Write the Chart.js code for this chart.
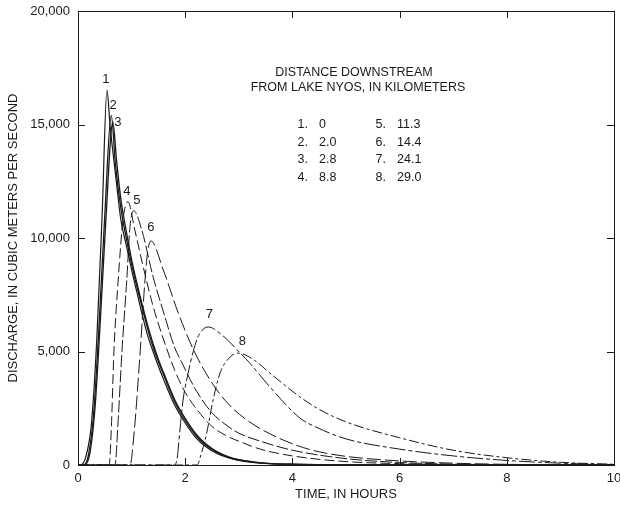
<!DOCTYPE html>
<html>
<head>
<meta charset="utf-8">
<script src="https://cdn.jsdelivr.net/npm/chart.js@4.4.1/dist/chart.umd.min.js"></script>
<style>
  html, body { margin: 0; padding: 0; background: #fff; }
  #wrap { width: 620px; height: 505px; position: relative; }
</style>
</head>
<body>
<div id="wrap"><canvas id="chart_nyosFlood"></canvas></div>
<script>
// time, in hours, and discharge, in cubic meters per second, for each station
var t1 = [0, 0.05, 0.15, 0.25, 0.35, 0.45, 0.54, 0.6, 0.7, 0.8, 0.9, 1.0, 1.1, 1.2, 1.3, 1.4, 1.5, 1.6, 1.8, 2.0, 2.2, 2.4, 2.6, 2.8, 3.0, 3.3, 3.6, 4.0, 4.5, 5.0, 10];
var q1 = [0, 0, 400, 1800, 5500, 11000, 16500, 14900, 12800, 10800, 9700, 8600, 7600, 6600, 5700, 5000, 4350, 3750, 2650, 1850, 1200, 780, 500, 320, 200, 100, 55, 25, 10, 0, 0];
var t2 = [0, 0.1, 0.2, 0.3, 0.4, 0.5, 0.62, 0.7, 0.8, 0.9, 1.0, 1.1, 1.2, 1.3, 1.4, 1.5, 1.6, 1.8, 2.0, 2.2, 2.4, 2.6, 2.8, 3.0, 3.3, 3.6, 4.0, 4.5, 5.0, 10];
var q2 = [0, 0, 500, 2500, 6500, 11000, 15400, 13200, 11300, 10000, 8850, 7850, 6900, 6000, 5200, 4550, 3950, 2800, 1950, 1300, 850, 550, 350, 220, 120, 60, 30, 10, 0, 0];
var t3 = [0, 0.12, 0.22, 0.32, 0.42, 0.52, 0.65, 0.72, 0.8, 0.9, 1.0, 1.1, 1.2, 1.3, 1.4, 1.5, 1.6, 1.8, 2.0, 2.2, 2.4, 2.6, 2.8, 3.0, 3.3, 3.6, 4.0, 4.5, 5.0, 10];
var q3 = [0, 0, 500, 2600, 6500, 10800, 15100, 13400, 11700, 10300, 9050, 8000, 7050, 6150, 5350, 4650, 4050, 2900, 2050, 1370, 900, 580, 370, 235, 125, 65, 32, 12, 0, 0];
var t4 = [0, 0.58, 0.62, 0.67, 0.75, 0.84, 0.93, 1.06, 1.2, 1.4, 1.6, 1.8, 2.0, 2.2, 2.5, 2.8, 3.0, 3.4, 4.0, 5.0, 6.0, 7.0, 8.0, 10];
var q4 = [0, 0, 1500, 5000, 8150, 10800, 11600, 10350, 8900, 7000, 5500, 4200, 3200, 2500, 1700, 1250, 1050, 700, 400, 150, 60, 20, 0, 0];
var t5 = [0, 0.69, 0.75, 0.82, 0.91, 0.97, 1.04, 1.19, 1.4, 1.6, 1.8, 1.94, 2.2, 2.5, 2.8, 3.0, 3.4, 4.0, 5.0, 6.0, 7.0, 8.0, 9.0, 10];
var q5 = [0, 0, 2000, 5000, 8150, 10500, 11200, 10350, 8300, 6700, 5200, 4500, 3300, 2300, 1700, 1400, 1050, 650, 280, 110, 40, 10, 0, 0];
var t6 = [0, 0.97, 1.05, 1.16, 1.25, 1.3, 1.36, 1.59, 1.87, 2.15, 2.45, 2.8, 3.2, 3.6, 4.1, 4.5, 5.0, 6.0, 7.0, 8.0, 9.0, 10];
var q6 = [0, 0, 1500, 5000, 8150, 9400, 9870, 8600, 6700, 5100, 3800, 2700, 1900, 1350, 850, 580, 380, 180, 80, 30, 10, 0];
var t7 = [0, 1.8, 1.85, 1.9, 1.96, 2.05, 2.15, 2.25, 2.43, 2.7, 2.97, 3.2, 3.58, 4.14, 4.46, 5.0, 6.0, 7.0, 8.0, 9.0, 10];
var q7 = [0, 0, 300, 1500, 2860, 4000, 5000, 5700, 6080, 5700, 5070, 4500, 3440, 2070, 1650, 1150, 700, 400, 200, 80, 20];
var t8 = [0, 2.22, 2.3, 2.4, 2.52, 2.65, 2.84, 2.99, 3.3, 3.58, 4.14, 4.5, 5.0, 6.0, 7.0, 8.0, 9.0, 10];
var q8 = [0, 0, 500, 1400, 2860, 4050, 4760, 4930, 4600, 4050, 3000, 2450, 1900, 1200, 650, 320, 120, 30];

var curveNames = ['1', '2', '3', '4', '5', '6', '7', '8'];
var distancesKm = ['0', '2.0', '2.8', '8.8', '11.3', '14.4', '24.1', '29.0'];
var xTicks = [0, 2, 4, 6, 8, 10];
var yTicks = [0, 5000, 10000, 15000, 20000];

var times = [t1, t2, t3, t4, t5, t6, t7, t8];
var flows = [q1, q2, q3, q4, q5, q6, q7, q8];
var dashes = [[], [], [], [10, 4], [12, 3], [14, 4], [16, 3, 4, 3], [10, 3, 3, 3]];
var widths = [1.2, 1.3, 1.3, 1, 1, 1, 1, 1];
// label nudges from each peak, in pixels
var labelOffsets = [[-1, -11], [2, -9], [5, 1], [-1, -10], [3, -10], [0, -13], [1, -12], [4, -11]];

var FONT = '"Liberation Sans", Arial, sans-serif';
var INK = '#1a1a1a';

var datasets = curveNames.map(function (name, i) {
  return {
    label: name,
    data: times[i].map(function (x, j) { return { x: x, y: flows[i][j] }; }),
    borderColor: INK,
    borderWidth: widths[i],
    borderDash: dashes[i],
    pointRadius: 0,
    fill: false,
    cubicInterpolationMode: 'monotone'
  };
});

var frameAndNotes = {
  id: 'frameAndNotes',
  beforeDraw: function (chart) {
    var ctx = chart.ctx;
    ctx.save();
    ctx.fillStyle = 'white';
    ctx.fillRect(0, 0, chart.width, chart.height);
    ctx.restore();
  },
  afterDatasetsDraw: function (chart) {
    var ctx = chart.ctx;
    var a = chart.chartArea;
    var xs = chart.scales.x, ys = chart.scales.y;
    ctx.save();
    ctx.strokeStyle = INK;
    ctx.lineWidth = 1;
    ctx.strokeRect(Math.round(a.left) + 0.5, Math.round(a.top) + 0.5, Math.round(a.right - a.left), Math.round(a.bottom - a.top));

    // inward tick marks on all four sides
    var len = 7;
    ctx.beginPath();
    xTicks.slice(1, -1).forEach(function (v) {
      var px = Math.round(xs.getPixelForValue(v)) + 0.5;
      ctx.moveTo(px, a.bottom); ctx.lineTo(px, a.bottom - len);
      ctx.moveTo(px, a.top); ctx.lineTo(px, a.top + len);
    });
    yTicks.slice(1, -1).forEach(function (v) {
      var py = Math.round(ys.getPixelForValue(v)) + 0.5;
      ctx.moveTo(a.left, py); ctx.lineTo(a.left + len, py);
      ctx.moveTo(a.right, py); ctx.lineTo(a.right - len, py);
    });
    ctx.stroke();

    // curve numbers at peaks
    ctx.fillStyle = INK;
    ctx.font = '13px ' + FONT;
    ctx.textAlign = 'center';
    ctx.textBaseline = 'bottom';
    flows.forEach(function (q, i) {
      var k = q.indexOf(Math.max.apply(null, q));
      var px = xs.getPixelForValue(times[i][k]) + labelOffsets[i][0];
      var py = ys.getPixelForValue(q[k]) + labelOffsets[i][1] + 6;
      ctx.fillText(curveNames[i], px, py);
    });

    // explanation block
    ctx.font = '12.5px ' + FONT;
    ctx.textBaseline = 'middle';
    ctx.fillText('DISTANCE DOWNSTREAM', a.left + 276, a.top + 62);
    ctx.fillText('FROM LAKE NYOS, IN KILOMETERS', a.left + 280, a.top + 77);
    for (var i = 0; i < 8; i++) {
      var col = Math.floor(i / 4), row = i % 4;
      var y = a.top + 114 + row * 17.5;
      var x0 = a.left + 230 + col * 78;
      ctx.textAlign = 'right';
      ctx.fillText(curveNames[i] + '.', x0, y);
      ctx.textAlign = 'left';
      ctx.fillText(distancesKm[i], x0 + 11, y);
    }
    ctx.restore();
  }
};

var chart_nyosFlood = new Chart(document.getElementById('chart_nyosFlood'), {
  type: 'line',
  data: { datasets: datasets },
  options: {
    animation: false,
    responsive: true,
    maintainAspectRatio: false,
    layout: { padding: { left: 0, top: 11, right: 6, bottom: 0 } },
    plugins: {
      legend: { display: false },
      tooltip: { enabled: false }
    },
    scales: {
      x: {
        type: 'linear',
        min: 0,
        max: 10,
        afterFit: function (s) { s.height = 40; s.paddingLeft = 0; s.paddingRight = 0; },
        afterBuildTicks: function (s) { s.ticks = xTicks.map(function (v) { return { value: v }; }); },
        grid: { display: false, drawTicks: false },
        border: { display: false },
        ticks: { color: INK, padding: 6, font: { family: FONT, size: 13 } },
        title: { display: true, text: 'TIME, IN HOURS', color: INK, padding: { top: 0, bottom: 3 }, font: { family: FONT, size: 13 } }
      },
      y: {
        min: 0,
        max: 20000,
        afterFit: function (s) { s.width = 78; s.paddingTop = 0; s.paddingBottom = 0; },
        afterBuildTicks: function (s) { s.ticks = yTicks.map(function (v) { return { value: v }; }); },
        grid: { display: false, drawTicks: false },
        border: { display: false },
        ticks: {
          color: INK, padding: 8, font: { family: FONT, size: 13 },
          callback: function (v) { return v.toLocaleString('en-US'); }
        },
        title: { display: true, text: 'DISCHARGE, IN CUBIC METERS PER SECOND', color: INK, padding: { top: 6, bottom: 0 }, font: { family: FONT, size: 13 } }
      }
    }
  },
  plugins: [frameAndNotes]
});
</script>
</body>
</html>
